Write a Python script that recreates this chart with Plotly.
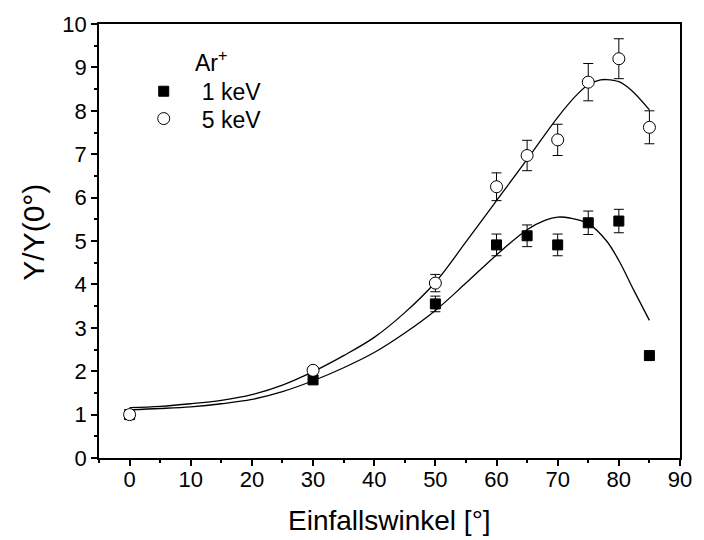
import plotly.graph_objects as go

# Measured sputter yield ratios Y/Y(0°) versus angle of incidence for Ar+ ions
angle = [0, 30, 50, 60, 65, 70, 75, 80, 85]

y_1kev = [1.00, 1.80, 3.55, 4.91, 5.12, 4.91, 5.42, 5.46, 2.36]
err_1kev = [0.05, 0.06, 0.18, 0.25, 0.25, 0.25, 0.27, 0.27, 0.10]

y_5kev = [1.00, 2.02, 4.03, 6.25, 6.97, 7.33, 8.66, 9.20, 7.62]
err_5kev = [0.05, 0.08, 0.20, 0.32, 0.35, 0.36, 0.43, 0.46, 0.38]

# Fitted curves, sampled at selected angles
fit_angle_1kev = [0, 5, 10, 15, 20, 25, 30, 35, 40, 45, 50, 55, 60, 65, 68, 70,
                  72, 75, 78, 80, 82.5, 85]
fit_1kev = [1.11, 1.14, 1.18, 1.25, 1.35, 1.53, 1.78, 2.08, 2.43, 2.88, 3.40, 4.03,
            4.68, 5.26, 5.48, 5.55, 5.53, 5.40, 5.00, 4.55, 3.85, 3.17]

fit_angle_5kev = [0, 5, 10, 15, 20, 25, 30, 35, 40, 45, 50, 55, 60, 65, 70, 73,
                  75, 77, 78, 80, 82, 85]
fit_5kev = [1.16, 1.19, 1.25, 1.33, 1.46, 1.68, 1.99, 2.36, 2.78, 3.35, 4.05, 4.98,
            5.93, 6.88, 7.85, 8.35, 8.60, 8.71, 8.72, 8.67, 8.48, 8.02]

font_family = "Liberation Sans, Arial, sans-serif"

fig = go.Figure()

fig.add_trace(go.Scatter(
    x=fit_angle_1kev, y=fit_1kev, mode="lines",
    line=dict(color="black", width=1.3, shape="spline", smoothing=1.0),
    showlegend=False, hoverinfo="skip"))
fig.add_trace(go.Scatter(
    x=fit_angle_5kev, y=fit_5kev, mode="lines",
    line=dict(color="black", width=1.3, shape="spline", smoothing=1.0),
    showlegend=False, hoverinfo="skip"))

fig.add_trace(go.Scatter(
    x=angle, y=y_1kev, mode="markers", name="1 keV", legend="legend",
    marker=dict(symbol="square", size=10, color="black",
                line=dict(color="black", width=1)),
    error_y=dict(type="data", array=err_1kev, color="black",
                 thickness=1, width=5)))
fig.add_trace(go.Scatter(
    x=angle, y=y_5kev, mode="markers", name="5 keV", legend="legend2",
    marker=dict(symbol="circle", size=12, color="white",
                line=dict(color="black", width=1)),
    error_y=dict(type="data", array=err_5kev, color="black",
                 thickness=1, width=5)))

fig.add_annotation(
    text="Ar<sup>+</sup>", xref="paper", yref="paper",
    x=0.162, y=0.915, xanchor="left", yanchor="middle",
    showarrow=False, font=dict(family=font_family, size=23, color="black"))

# Axis titles
fig.add_annotation(
    text="Einfallswinkel [°]", xref="paper", yref="paper",
    x=0.5, y=-0.143, xanchor="center", yanchor="middle",
    showarrow=False, font=dict(family=font_family, size=28, color="black"))
fig.add_annotation(
    text="Y/Y(0°)", xref="paper", yref="paper", textangle=-90,
    x=-0.113, y=0.52, xanchor="center", yanchor="middle",
    showarrow=False, font=dict(family=font_family, size=30, color="black"))

legend_style = dict(xanchor="left", yanchor="middle",
                    bgcolor="rgba(0,0,0,0)", font=dict(size=23),
                    itemwidth=66)

fig.update_layout(
    width=704, height=540,
    margin=dict(l=99, r=14, t=20, b=82),
    paper_bgcolor="white", plot_bgcolor="white",
    font=dict(family=font_family, size=22, color="black"),
    legend=dict(x=0.046, y=0.845, **legend_style),
    legend2=dict(x=0.046, y=0.782, **legend_style),
    xaxis=dict(
        range=[-5, 90], dtick=10, tick0=0,
        showgrid=False, zeroline=False,
        showline=True, linecolor="black", linewidth=1.5, mirror=True,
        ticks="outside", ticklen=6, tickwidth=1.5, tickcolor="black",
        minor=dict(ticks="outside", ticklen=3, dtick=5, tick0=0,
                   tickcolor="black", tickwidth=1.5),
        tickfont=dict(size=22), ticklabelstandoff=-5),
    yaxis=dict(
        range=[0, 10], dtick=1, tick0=0,
        showgrid=False, zeroline=False,
        showline=True, linecolor="black", linewidth=1.5, mirror=True,
        ticks="outside", ticklen=6, tickwidth=1.5, tickcolor="black",
        minor=dict(ticks="outside", ticklen=3, dtick=0.5, tick0=0,
                   tickcolor="black", tickwidth=1.5),
        tickfont=dict(size=22)),
)

fig.write_html("out.html")
